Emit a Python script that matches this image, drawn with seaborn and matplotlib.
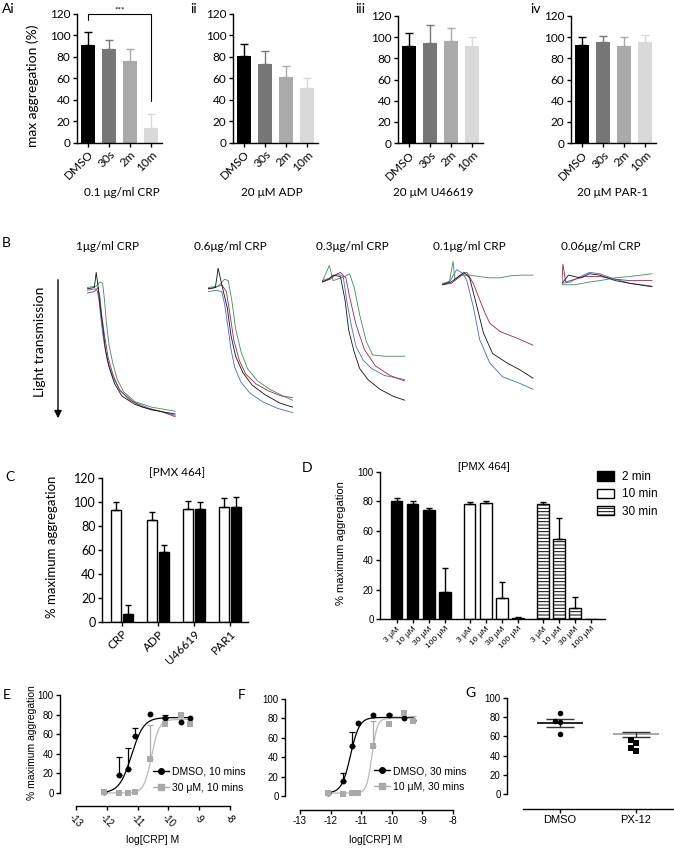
import numpy as np
import pandas as pd
import seaborn as sns
import matplotlib.pyplot as plt
from matplotlib.patches import Patch
from matplotlib.lines import Line2D

sns.set_theme(style='ticks')
plt.rcParams['font.family'] = ['Lato', 'DejaVu Sans']
plt.rcParams['axes.unicode_minus'] = False
plt.rcParams['hatch.linewidth'] = 0.7
for k in ['text.color', 'axes.labelcolor', 'xtick.color', 'ytick.color', 'axes.edgecolor']:
    plt.rcParams[k] = 'black'
ARIAL = ['Liberation Sans', 'DejaVu Sans']

# ---------------- data ----------------
# panel A : max aggregation (%) after pre-incubation times
A_conditions = ['DMSO', '30s', '2m', '10m']
A_colors = ['#000000', '#777777', '#aaaaaa', '#d9d9d9']
A_titles = ['0.1 \u03bcg/ml CRP', '20 \u03bcM ADP', '20 \u03bcM U46619', '20 \u03bcM PAR-1']
A_labels = ['Ai', 'ii', 'iii', 'iv']
Ai_mean = [91, 87, 76, 13.5]
Ai_sem = [12, 9, 11, 13]
Aii_mean = [81, 73.5, 61, 51]
Aii_sem = [11, 12, 10.5, 9.5]
Aiii_mean = [91.5, 94.5, 96, 91.5]
Aiii_sem = [12.5, 17, 12.5, 8.5]
Aiv_mean = [92.5, 95, 91.5, 95]
Aiv_sem = [7.5, 6.5, 8.5, 7.5]

# panel B : aggregation traces (time units, light transmission %)
B_titles = ['1\u03bcg/ml CRP', '0.6\u03bcg/ml CRP', '0.3\u03bcg/ml CRP', '0.1\u03bcg/ml CRP', '0.06\u03bcg/ml CRP']
B_colors = {'blue': '#4668c8', 'black': '#111111', 'red': '#9c2450', 'green': '#3d8f4e'}

B1_blue_t = [0, 9, 11, 13, 15, 18, 22, 28, 36, 50, 68, 96]
B1_blue_v = [7, 6, 7, 14, 27, 43, 58, 70, 80, 88, 93, 98]
B1_black_t = [0, 8, 10, 12, 14, 17, 20, 24, 30, 38, 52, 70, 96]
B1_black_v = [6, 5, -6, 4, 17, 33, 50, 63, 75, 84, 90, 94, 97]
B1_red_t = [0, 8, 12, 14, 16, 19, 23, 28, 35, 45, 60, 80, 96]
B1_red_v = [9, 8, 5, 12, 25, 40, 56, 68, 79, 86, 92, 95, 99]
B1_green_t = [0, 10, 14, 17, 19, 21, 24, 28, 33, 40, 52, 70, 96]
B1_green_v = [5, 4, 1, 2, 14, 30, 47, 60, 72, 81, 88, 92, 95]

B2_blue_t = [0, 9, 15, 18, 22, 25, 29, 36, 46, 59, 76, 92]
B2_blue_v = [8, 7, 8, 17, 35, 50, 63, 74, 82, 88, 93, 96]
B2_black_t = [0, 8, 11, 15, 21, 25, 30, 38, 48, 62, 78, 92]
B2_black_v = [6, 5, -9, 3, 20, 40, 55, 67, 76, 83, 89, 92]
B2_red_t = [0, 8, 15, 20, 24, 28, 34, 41, 52, 65, 80, 92]
B2_red_v = [6, 5, 3, 8, 25, 43, 58, 68, 75, 80, 84, 85]
B2_green_t = [0, 11, 18, 22, 26, 30, 36, 43, 54, 67, 82, 92]
B2_green_v = [5, 4, -1, 0, 15, 35, 52, 64, 73, 79, 84, 87]

B3_blue_t = [0, 9, 17, 23, 27, 32, 37, 45, 54, 68, 90]
B3_blue_v = [0, -2, -5, -3, 15, 33, 48, 58, 64, 69, 72]
B3_black_t = [0, 7, 12, 20, 25, 29, 35, 41, 50, 63, 77, 90]
B3_black_v = [1, -1, -4, -3, 14, 36, 52, 64, 72, 79, 84, 87]
B3_red_t = [0, 9, 14, 20, 26, 30, 37, 46, 58, 74, 90]
B3_red_v = [1, -1, -4, -6, -2, 12, 32, 50, 62, 69, 73]
B3_green_t = [0, 8, 12, 25, 30, 35, 41, 48, 55, 68, 90]
B3_green_v = [1, -11, 0, -3, -5, 5, 25, 44, 54, 55, 55]

B4_blue_t = [0, 9, 16, 23, 27, 34, 41, 52, 66, 82, 99]
B4_blue_v = [3, 0, -8, -5, 0, 19, 43, 60, 70, 74, 79]
B4_black_t = [0, 10, 18, 24, 30, 38, 45, 55, 71, 85, 99]
B4_black_v = [3, 1, -3, -6, -2, 19, 38, 53, 60, 65, 71]
B4_red_t = [0, 10, 18, 24, 27, 34, 41, 47, 52, 63, 82, 99]
B4_red_v = [3, 2, -2, -5, -6, 2, 14, 24, 31, 37, 42, 47]
B4_green_t = [0, 8, 12, 14, 20, 30, 40, 52, 63, 74, 86, 99]
B4_green_v = [2, 1, -14, -1, -4, -4, -3, -2, -2, -3.5, -4, -4]

B5_blue_t = [0, 9, 20, 30, 41, 58, 74, 98]
B5_blue_v = [2, 1, -3, -6, -5, -1, 2, 4]
B5_black_t = [0, 7, 20, 30, 41, 58, 74, 98]
B5_black_v = [2, -4, -2, -5, -4, 0, 2, 4.5]
B5_red_t = [0, 1, 4, 14, 25, 41, 58, 74, 98]
B5_red_v = [1, -12, 1, -1, -3, -3, -1, 0, 0]
B5_green_t = [0, 14, 30, 41, 58, 74, 98]
B5_green_v = [3, 3, 1, 0, -2, -3, -5]

# panel C
C_agonists = ['CRP', 'ADP', 'U46619', 'PAR1']
C_treatments = ['vehicle', 'PMX 464']
C_vehicle_mean = [93, 85, 94, 96]
C_vehicle_sem = [7, 7, 7, 7.5]
C_pmx_mean = [7, 58, 94, 96]
C_pmx_sem = [7, 6, 6, 8]

# panel D
D_times = ['2 min', '10 min', '30 min']
D_concs = ['3 \u03bcM', '10 \u03bcM', '30 \u03bcM', '100 \u03bcM']
D_2min_mean = [80, 78, 74, 18.5]
D_2min_sem = [2, 2, 1.5, 16]
D_10min_mean = [78, 78.7, 14, 0.9]
D_10min_sem = [1.5, 1.6, 11, 0.7]
D_30min_mean = [78.5, 54.5, 7.7, 0]
D_30min_sem = [1, 14, 7.5, 0]

# panels E and F : concentration response
EF_logconc = [-12.1, -11.6, -11.3, -11.1, -10.6, -10.1, -9.6, -9.3]
E_dmso_mean = [0.5, 18.6, 24.7, 58.6, 80.3, 76.3, 72.9, 76.3]
E_dmso_sem = [0, 18, 21.7, 8.2, 0, 3.4, 0, 0]
E_pmx_mean = [0.5, 0, 0, 1.5, 35, 70, 80, 70.5]
E_pmx_sem = [0, 0, 0, 0, 34.5, 0, 0, 0]
E_dmso_fit = [0, 77, -11.2, 2.2]      # bottom, top, logEC50, hill
E_pmx_fit = [0, 75, -10.55, 3.5]
F_dmso_mean = [3, 15, 52, 75.5, 83, 83, 80, 78]
F_dmso_sem = [0, 9, 14, 0, 0, 2, 0, 0]
F_pmx_mean = [3, 2.5, 3, 3.5, 52, 74, 86, 77]
F_pmx_sem = [0, 0, 0, 0, 25, 0, 0, 5]
F_dmso_fit = [3, 81, -11.35, 3.0]
F_pmx_fit = [3, 80, -10.65, 5.0]
EF_xticks = [-13, -12, -11, -10, -9, -8]

# panel G
G_groups = ['DMSO', 'PX-12']
G_dmso = [84, 76, 74.5, 62]
G_px12 = [56.5, 53, 48, 45]
G_mean = [74, 62.5]
G_sem = [4.5, 2.6]

# ---------------- layout helpers ----------------
W, H = 674, 850
fig = plt.figure(figsize=(W / 100, H / 100), dpi=100)


def px_axes(l, t, r, b):
    return fig.add_axes([l / W, 1 - b / H, (r - l) / W, (b - t) / H])


def ftext(x, y, s, **kw):
    kw.setdefault('ha', 'center')
    kw.setdefault('va', 'center')
    fig.text(x / W, 1 - y / H, s, **kw)


def style(ax, lw=1.0, size=8.5):
    sns.despine(ax=ax)
    for s in ['left', 'bottom']:
        ax.spines[s].set_linewidth(lw)
    ax.tick_params(width=lw, length=3, labelsize=size, pad=1.5)
    ax.set_xlabel('')
    ax.set_ylabel('')


def set_family(ax, family):
    for lab in ax.get_xticklabels() + ax.get_yticklabels():
        lab.set_fontfamily(family)


def up_errorbars(ax, xs, ys, sems, colors, capsize=3, lw=1.0):
    for x, y, s, c in zip(xs, ys, sems, colors):
        if s <= 0:
            continue
        ax.errorbar([x], [y], yerr=[[0], [s]], fmt='none', ecolor=c,
                    elinewidth=lw, capsize=capsize, capthick=lw, clip_on=False)


def logistic(x, bottom, top, logec50, hill):
    return bottom + (top - bottom) / (1 + 10 ** (hill * (logec50 - x)))


# ---------------- panel A ----------------
A_boxes = [(76.5, 14, 161.5, 142.5), (232.5, 14, 317.5, 142.5),
           (397.5, 16, 482.5, 143), (570.5, 16, 655.5, 143)]
A_data = [(Ai_mean, Ai_sem), (Aii_mean, Aii_sem), (Aiii_mean, Aiii_sem), (Aiv_mean, Aiv_sem)]
A_title_x = [122, 272, 433, 613]
A_label_x = [8, 194, 360, 535]
for i, (bx, (mean, sem)) in enumerate(zip(A_boxes, A_data)):
    ax = px_axes(*bx)
    df = pd.DataFrame({'cond': A_conditions, 'val': mean})
    sns.barplot(data=df, x='cond', y='val', hue='cond', palette=A_colors, width=0.7,
                saturation=1, linewidth=0, legend=False, ax=ax)
    bars = sorted(ax.patches, key=lambda p: p.get_x())
    up_errorbars(ax, [p.get_x() + p.get_width() / 2 for p in bars],
                 [p.get_height() for p in bars], sem, A_colors, capsize=3)
    ax.set_ylim(0, 120)
    ax.set_xlim(-0.55, 3.5)
    ax.set_yticks(range(0, 121, 20))
    style(ax)
    ax.set_xticks(range(4), labels=A_conditions, rotation=45, ha='right', rotation_mode='anchor')
    ftext(A_title_x[i], 193, A_titles[i], fontsize=8.5)
    ftext(A_label_x[i], 9, A_labels[i], fontsize=10)
    if i == 0:
        ax.plot([0, 0, 3, 3], [114.5, 120, 120, 39], color='black', lw=0.8, clip_on=False)
        ax.text(1.5, 120.5, '***', ha='center', va='bottom', fontsize=6, clip_on=False)
ftext(33, 86, 'max aggregation (%)', fontsize=10, rotation=90)

# ---------------- panel B ----------------
B_traces = [
    [(B1_blue_t, B1_blue_v, 'blue'), (B1_red_t, B1_red_v, 'red'), (B1_green_t, B1_green_v, 'green'), (B1_black_t, B1_black_v, 'black')],
    [(B2_blue_t, B2_blue_v, 'blue'), (B2_red_t, B2_red_v, 'red'), (B2_green_t, B2_green_v, 'green'), (B2_black_t, B2_black_v, 'black')],
    [(B3_blue_t, B3_blue_v, 'blue'), (B3_red_t, B3_red_v, 'red'), (B3_green_t, B3_green_v, 'green'), (B3_black_t, B3_black_v, 'black')],
    [(B4_blue_t, B4_blue_v, 'blue'), (B4_red_t, B4_red_v, 'red'), (B4_green_t, B4_green_v, 'green'), (B4_black_t, B4_black_v, 'black')],
    [(B5_blue_t, B5_blue_v, 'blue'), (B5_red_t, B5_red_v, 'red'), (B5_green_t, B5_green_v, 'green'), (B5_black_t, B5_black_v, 'black')],
]
B_x0 = [87, 208, 322, 442, 562]
B_title_x = [107, 230, 352, 469, 601]
for i, traces in enumerate(B_traces):
    ax = px_axes(B_x0[i], 260, B_x0[i] + 92, 425)
    for t, v, c in traces:
        sns.lineplot(x=t, y=v, color=B_colors[c], lw=0.6, estimator=None, ax=ax)
    ax.set_xlim(0, 100)
    ax.set_ylim(105, -15)
    ax.axis('off')
    ftext(B_title_x[i], 247, B_titles[i], fontsize=8.5)
ftext(6, 243, 'B', fontsize=10)
ftext(40, 342, 'Light transmission', fontsize=10, rotation=90)
fig.add_artist(plt.Annotation('', xy=(58 / W, 1 - 421 / H), xytext=(58 / W, 1 - 277 / H),
                              xycoords='figure fraction', textcoords='figure fraction',
                              arrowprops=dict(arrowstyle='-|>', lw=1, color='black', mutation_scale=11)))

# ---------------- panel C ----------------
axC = px_axes(102, 478, 248, 622)
dfC = pd.DataFrame({
    'agonist': C_agonists * 2,
    'treatment': [C_treatments[0]] * 4 + [C_treatments[1]] * 4,
    'mean': C_vehicle_mean + C_pmx_mean,
})
sns.barplot(data=dfC, x='agonist', y='mean', hue='treatment', order=C_agonists,
            hue_order=C_treatments, palette=['white', 'black'], width=0.64, gap=0.15,
            edgecolor='black', linewidth=1, saturation=1, legend=False, ax=axC)
C_sem_order = []
for j in range(4):
    C_sem_order += [C_vehicle_sem[j], C_pmx_sem[j]]
barsC = sorted(axC.patches, key=lambda p: p.get_x())
up_errorbars(axC, [p.get_x() + p.get_width() / 2 for p in barsC],
             [p.get_height() for p in barsC], C_sem_order, ['black'] * 8, capsize=2.5)
axC.set_ylim(0, 120)
axC.set_xlim(-0.56, 3.5)
axC.set_yticks(range(0, 121, 20))
style(axC, size=9)
axC.set_xticks(range(4), labels=C_agonists, rotation=45, ha='right', rotation_mode='anchor')
axC.tick_params(axis='x', labelsize=8.5)
ftext(177, 473, '[PMX 464]', fontsize=8.5)
ftext(10, 477, 'C', fontsize=10)
ftext(52, 547, '% maximum aggregation', fontsize=9.5, rotation=90)

# ---------------- panel D ----------------
axD = px_axes(380, 472, 605, 619)
dfD = pd.DataFrame({
    'time': [t for t in D_times for _ in D_concs],
    'conc': D_concs * 3,
    'mean': D_2min_mean + D_10min_mean + D_30min_mean,
})
sns.barplot(data=dfD, x='time', y='mean', hue='conc', order=D_times, hue_order=D_concs,
            palette=['white'] * 4, width=0.88, gap=0.3, edgecolor='black', linewidth=1,
            saturation=1, legend=False, ax=axD)
barsD = sorted(axD.patches, key=lambda p: p.get_x())
D_fill = {0: ('black', ''), 1: ('white', ''), 2: ('white', '-----')}
for p in barsD:
    g = int(round(p.get_x() + p.get_width() / 2))
    p.set_facecolor(D_fill[g][0])
    p.set_hatch(D_fill[g][1])
centersD = [p.get_x() + p.get_width() / 2 for p in barsD]
up_errorbars(axD, centersD, [p.get_height() for p in barsD],
             D_2min_sem + D_10min_sem + D_30min_sem, ['black'] * 12, capsize=2.2)
axD.set_ylim(0, 100)
axD.set_xlim(-0.56, 2.52)
axD.set_yticks(range(0, 101, 20))
style(axD, size=7)
axD.set_xticks(centersD, labels=D_concs * 3, rotation=45, ha='right', rotation_mode='anchor')
axD.tick_params(axis='x', labelsize=6)
set_family(axD, ARIAL)
ftext(484, 467, '[PMX 464]', fontsize=8, family=ARIAL)
ftext(307, 468, 'D', fontsize=10)
ftext(341, 543, '% maximum aggregation', fontsize=8, rotation=90, family=ARIAL)
D_handles = [Patch(facecolor='black', edgecolor='black'),
             Patch(facecolor='white', edgecolor='black'),
             Patch(facecolor='white', edgecolor='black', hatch='-----')]
fig.legend(D_handles, D_times, loc='upper left', bbox_to_anchor=(597 / W, 1 - 471 / H),
           frameon=False, borderpad=0, borderaxespad=0, handlelength=1.45, handleheight=0.85,
           handletextpad=0.7, labelspacing=0.45, prop={'family': ARIAL, 'size': 8.5})

# ---------------- panels E and F ----------------
grid = np.linspace(-12.1, -9.3, 200)
EF_specs = [
    dict(box=(60, 695, 231, 806), xlim=(-13.52, -7.97), ylim=(-13.3, 100),
         dmso=(E_dmso_mean, E_dmso_sem, E_dmso_fit), pmx=(E_pmx_mean, E_pmx_sem, E_pmx_fit),
         labels=['DMSO, 10 mins', '30 \u03bcM, 10 mins'], leg=(153, 767), rot=-45,
         xlabel_x=153, panel=('E', 7, 695)),
    dict(box=(285, 699, 454, 810), xlim=(-13.49, -7.97), ylim=(-14.4, 100),
         dmso=(F_dmso_mean, F_dmso_sem, F_dmso_fit), pmx=(F_pmx_mean, F_pmx_sem, F_pmx_fit),
         labels=['DMSO, 30 mins', '10 \u03bcM, 30 mins'], leg=(374, 766), rot=0,
         xlabel_x=376, panel=('F', 242, 695)),
]
GRAY = '#a9a9a9'
for spec in EF_specs:
    ax = px_axes(*spec['box'])
    for (mean, sem, fit), col, mk in [(spec['dmso'], 'black', 'o'), (spec['pmx'], GRAY, 's')]:
        sns.lineplot(x=grid, y=logistic(grid, *fit), color=col if col == 'black' else '#b8b8b8',
                     lw=0.9, ax=ax)
        up_errorbars(ax, EF_logconc, mean, sem, [col] * 8, capsize=2.2, lw=0.9)
        sns.scatterplot(x=EF_logconc, y=mean, color=col, marker=mk, s=18, linewidth=0,
                        ax=ax, clip_on=False, zorder=3)
    ax.set_xlim(*spec['xlim'])
    ax.set_ylim(*spec['ylim'])
    ax.set_yticks(range(0, 101, 20))
    style(ax, size=7)
    ax.spines['left'].set_bounds(0, 100)
    ax.spines['bottom'].set_bounds(-13, -8)
    if spec['rot']:
        ax.set_xticks(EF_xticks, labels=[str(t) for t in EF_xticks], rotation=spec['rot'],
                      ha='center', va='top')
    else:
        ax.set_xticks(EF_xticks, labels=[str(t) for t in EF_xticks])
    set_family(ax, ARIAL)
    handles = [Line2D([], [], color='black', marker='o', markersize=4, lw=1),
               Line2D([], [], color=GRAY, marker='s', markersize=4, lw=1)]
    fig.legend(handles, spec['labels'], loc='upper left',
               bbox_to_anchor=(spec['leg'][0] / W, 1 - spec['leg'][1] / H), frameon=False,
               borderpad=0, borderaxespad=0, handlelength=1.5, handletextpad=0.35,
               labelspacing=0.55, prop={'family': ARIAL, 'size': 7.5})
    ftext(spec['xlabel_x'], 840, 'log[CRP] M', fontsize=7.5, family=ARIAL)
    ftext(spec['panel'][1], spec['panel'][2], spec['panel'][0], fontsize=10)
ftext(32, 743, '% maximum aggregation', fontsize=7.5, rotation=90, family=ARIAL)

# ---------------- panel G ----------------
axG = px_axes(507, 698, 674, 809)
sns.swarmplot(x=['DMSO'] * len(G_dmso), y=G_dmso, order=G_groups, color='black',
              marker='o', size=4, ax=axG)
sns.swarmplot(x=['PX-12'] * len(G_px12), y=G_px12, order=G_groups, color='black',
              marker='s', size=4, ax=axG)
for i, (m, s) in enumerate(zip(G_mean, G_sem)):
    line_col = 'black' if i == 0 else '#999999'
    axG.hlines(m, i - 0.3, i + 0.3, color=line_col, lw=1.2)
    axG.hlines([m - s, m + s], i - 0.18, i + 0.18, color='#333333', lw=1)
    axG.vlines(i, m - s, m + s, color='#333333', lw=1)
axG.set_xlim(-0.70, 1.5)
axG.set_ylim(-15.6, 100)
axG.set_yticks(range(0, 101, 20))
style(axG, size=7)
axG.tick_params(axis='x', labelsize=8)
axG.spines['left'].set_bounds(0, 100)
axG.spines['bottom'].set_bounds(-0.49, 1.5)
set_family(axG, ARIAL)
ftext(470, 693, 'G', fontsize=10)

fig.savefig('out.png', dpi=100)
